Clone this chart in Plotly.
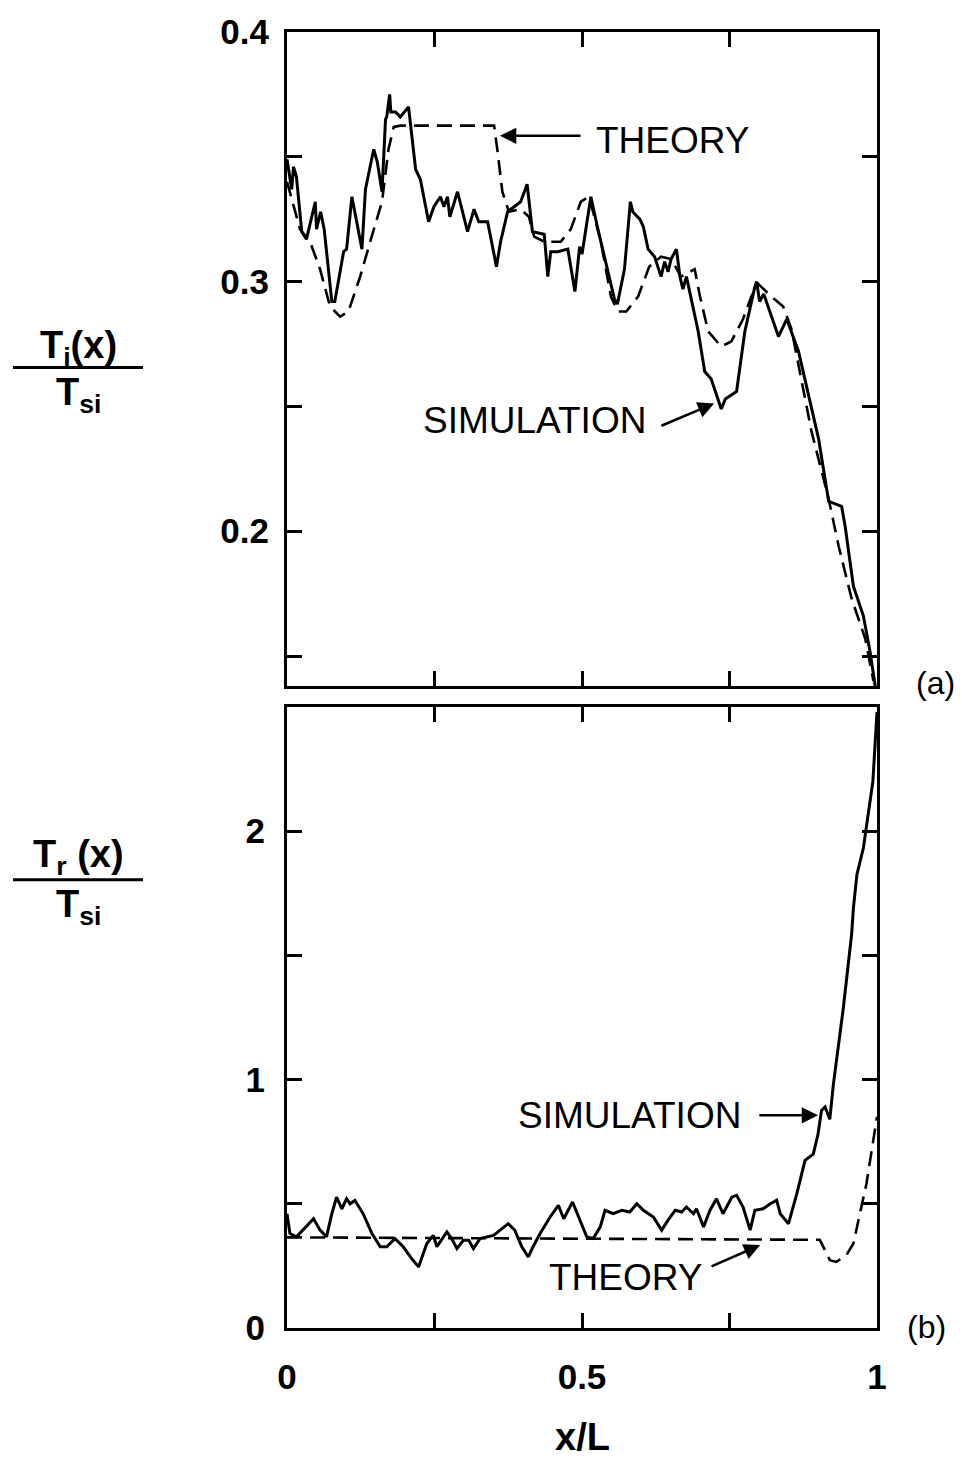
import plotly.graph_objects as go

# ---------------- data ----------------
top_sim_x = [0.000, 0.008, 0.011, 0.016, 0.025, 0.033, 0.048, 0.050, 0.057, 0.063,
             0.076, 0.081, 0.096, 0.101, 0.110, 0.127, 0.133, 0.147, 0.153, 0.161,
             0.167, 0.169, 0.174, 0.176, 0.184, 0.192, 0.206, 0.218, 0.226, 0.240,
             0.249, 0.260, 0.266, 0.272, 0.276, 0.289, 0.306, 0.317, 0.325, 0.340,
             0.355, 0.362, 0.374, 0.396, 0.407, 0.416, 0.436, 0.442, 0.447, 0.459,
             0.476, 0.488, 0.496, 0.500, 0.515, 0.527, 0.555, 0.560, 0.572, 0.582,
             0.586, 0.598, 0.604, 0.612, 0.623, 0.634, 0.640, 0.646, 0.651, 0.660,
             0.666, 0.671, 0.677, 0.697, 0.708, 0.719, 0.736, 0.743, 0.762, 0.776,
             0.793, 0.796, 0.801, 0.808, 0.833, 0.847, 0.867, 0.889, 0.901, 0.918,
             0.940, 0.946, 0.960, 0.977, 0.988, 0.997]
top_sim_y = [0.349, 0.337, 0.346, 0.342, 0.320, 0.317, 0.332, 0.321, 0.328, 0.321,
             0.292, 0.292, 0.312, 0.313, 0.334, 0.313, 0.337, 0.353, 0.348, 0.336,
             0.365, 0.366, 0.375, 0.368, 0.368, 0.366, 0.370, 0.345, 0.341, 0.324,
             0.330, 0.334, 0.330, 0.334, 0.326, 0.336, 0.320, 0.329, 0.324, 0.324,
             0.306, 0.316, 0.328, 0.332, 0.339, 0.320, 0.319, 0.302, 0.312, 0.312,
             0.313, 0.296, 0.314, 0.311, 0.334, 0.321, 0.293, 0.291, 0.305, 0.332,
             0.328, 0.325, 0.322, 0.313, 0.310, 0.302, 0.308, 0.304, 0.309, 0.313,
             0.302, 0.297, 0.302, 0.280, 0.264, 0.261, 0.249, 0.253, 0.256, 0.280,
             0.298, 0.300, 0.292, 0.295, 0.278, 0.285, 0.272, 0.249, 0.237, 0.212,
             0.210, 0.202, 0.178, 0.166, 0.152, 0.138]

top_th_x = [0.000, 0.022, 0.039, 0.056, 0.073, 0.090, 0.104, 0.124, 0.141, 0.161,
            0.172, 0.181, 0.192, 0.351, 0.357, 0.365, 0.376, 0.396, 0.410, 0.419,
            0.436, 0.464, 0.481, 0.498, 0.512, 0.532, 0.549, 0.561, 0.575, 0.595,
            0.614, 0.634, 0.651, 0.668, 0.691, 0.700, 0.714, 0.736, 0.753, 0.773,
            0.787, 0.799, 0.821, 0.841, 0.855, 0.867, 0.889, 0.918, 0.935, 0.957,
            0.980, 0.994]
top_th_y = [0.340, 0.321, 0.316, 0.305, 0.290, 0.286, 0.288, 0.302, 0.316, 0.332,
            0.353, 0.362, 0.3625, 0.3625, 0.352, 0.336, 0.328, 0.329, 0.326, 0.318,
            0.316, 0.316, 0.321, 0.332, 0.334, 0.316, 0.294, 0.288, 0.288, 0.294,
            0.306, 0.310, 0.309, 0.302, 0.305, 0.294, 0.280, 0.274, 0.276, 0.285,
            0.294, 0.299, 0.294, 0.290, 0.281, 0.266, 0.240, 0.213, 0.194, 0.173,
            0.157, 0.140]

bot_sim_x = [0.000, 0.005, 0.016, 0.031, 0.045, 0.056, 0.067, 0.076, 0.084, 0.093,
             0.101, 0.107, 0.115, 0.129, 0.144, 0.158, 0.169, 0.183, 0.197, 0.211,
             0.223, 0.237, 0.248, 0.254, 0.271, 0.279, 0.288, 0.299, 0.308, 0.316,
             0.327, 0.350, 0.375, 0.386, 0.398, 0.409, 0.417, 0.429, 0.446, 0.460,
             0.469, 0.484, 0.497, 0.508, 0.519, 0.531, 0.539, 0.553, 0.567, 0.581,
             0.593, 0.604, 0.621, 0.635, 0.646, 0.658, 0.669, 0.677, 0.689, 0.694,
             0.706, 0.717, 0.728, 0.739, 0.754, 0.762, 0.773, 0.785, 0.793, 0.807,
             0.819, 0.830, 0.836, 0.850, 0.864, 0.878, 0.892, 0.900, 0.906, 0.912,
             0.920, 0.926, 0.937, 0.943, 0.957, 0.960, 0.966, 0.977, 0.985, 0.993,
             0.998, 1.000]
bot_sim_y = [0.46, 0.38, 0.367, 0.407, 0.44, 0.394, 0.367, 0.46, 0.527, 0.48,
             0.52, 0.50, 0.514, 0.46, 0.38, 0.327, 0.327, 0.36, 0.327, 0.28,
             0.246, 0.34, 0.373, 0.327, 0.387, 0.36, 0.32, 0.353, 0.353, 0.32,
             0.36, 0.373, 0.42, 0.394, 0.327, 0.286, 0.327, 0.38, 0.447, 0.494,
             0.44, 0.507, 0.43, 0.367, 0.36, 0.407, 0.474, 0.46, 0.474, 0.467,
             0.50, 0.474, 0.447, 0.394, 0.434, 0.474, 0.467, 0.487, 0.46, 0.48,
             0.407, 0.474, 0.52, 0.46, 0.527, 0.534, 0.487, 0.394, 0.474, 0.48,
             0.50, 0.514, 0.46, 0.42, 0.54, 0.675, 0.70, 0.78, 0.876, 0.89,
             0.84, 0.98, 1.18, 1.29, 1.585, 1.69, 1.826, 1.933, 2.067, 2.2,
             2.4, 2.48]

bot_th_x = [0.000, 0.903, 0.912, 0.920, 0.931, 0.948, 0.960, 0.971, 0.982, 0.991, 1.000]
bot_th_y = [0.365, 0.355, 0.313, 0.273, 0.266, 0.293, 0.34, 0.46, 0.58, 0.715, 0.85]

top_ytick_vals = [0.15, 0.2, 0.25, 0.3, 0.35, 0.4]
top_ytick_text = ["", "0.2", "", "0.3", "", "0.4"]
bot_ytick_vals = [0, 0.5, 1, 1.5, 2]
bot_ytick_text = ["0", "", "1", "", "2"]
xtick_vals = [0, 0.25, 0.5, 0.75, 1]
xtick_text = ["0", "", "0.5", "", "1"]

# ---------------- figure ----------------
W, H = 962, 1461
ML, MR, MT, MB = 287, 85, 30, 133
PW, PH = W - ML - MR, H - MT - MB


def px(x):
    return (x - ML) / PW


def py(y):
    return (H - MB - y) / PH


FONT = "Liberation Sans, Arial, Helvetica, sans-serif"

fig = go.Figure()
solid = dict(color="black", width=3)
dashed = dict(color="black", width=2.6, dash="15px,8px")

fig.add_trace(go.Scatter(x=top_th_x, y=top_th_y, mode="lines", line=dashed,
                         xaxis="x", yaxis="y", showlegend=False))
fig.add_trace(go.Scatter(x=top_sim_x, y=top_sim_y, mode="lines", line=solid,
                         xaxis="x", yaxis="y", showlegend=False))
fig.add_trace(go.Scatter(x=bot_th_x, y=bot_th_y, mode="lines", line=dashed,
                         xaxis="x2", yaxis="y2", showlegend=False))
fig.add_trace(go.Scatter(x=bot_sim_x, y=bot_sim_y, mode="lines", line=solid,
                         xaxis="x2", yaxis="y2", showlegend=False))

axis_common = dict(showline=True, linewidth=3, linecolor="black", mirror="ticks",
                   ticks="inside", ticklen=15, tickwidth=2.5, tickcolor="black",
                   showgrid=False, zeroline=False,
                   tickfont=dict(family=FONT, size=35, color="black", weight="bold"))

top_dom = [py(685), 1.0]
bot_dom = [0.0, py(706)]

fig.update_layout(
    width=W, height=H,
    margin=dict(l=ML, r=MR, t=MT, b=MB),
    paper_bgcolor="white", plot_bgcolor="white",
    xaxis=dict(axis_common, range=[0, 1], domain=[0, 1], anchor="y",
               tickvals=[0.25, 0.5, 0.75], showticklabels=False),
    yaxis=dict(axis_common, range=[0.138, 0.4], domain=top_dom, anchor="x",
               tickvals=top_ytick_vals, ticktext=top_ytick_text,
               ticklabelstandoff=8),
    xaxis2=dict(axis_common, range=[0, 1], domain=[0, 1], anchor="y2",
                tickvals=xtick_vals, ticktext=xtick_text, ticklabelstandoff=16),
    yaxis2=dict(axis_common, range=[0, 2.5], domain=bot_dom, anchor="x2",
                tickvals=bot_ytick_vals, ticktext=bot_ytick_text,
                ticklabelstandoff=12),
)

lab = dict(family=FONT, size=37, color="black")
C = dict(xanchor="center", yanchor="middle")
arrow = dict(text="", showarrow=True, arrowhead=2, arrowsize=1.3,
             arrowwidth=2.5, arrowcolor="black")
ann = []
# top panel labels
ann.append(dict(C, x=0.654, y=0.3564, xref="x", yref="y", text="THEORY",
                showarrow=False, font=lab))
ann.append(dict(arrow, x=0.361, y=0.3584, ax=0.50, ay=0.3584, xref="x", yref="y",
                axref="x", ayref="y"))
ann.append(dict(C, x=0.419, y=0.2444, xref="x", yref="y", text="SIMULATION",
                showarrow=False, font=lab))
ann.append(dict(arrow, x=0.724, y=0.2512, ax=0.632, ay=0.2420, xref="x", yref="y",
                axref="x", ayref="y"))
# bottom panel labels
ann.append(dict(C, x=0.581, y=0.856, xref="x2", yref="y2", text="SIMULATION",
                showarrow=False, font=lab))
ann.append(dict(arrow, x=0.90, y=0.856, ax=0.798, ay=0.856, xref="x2", yref="y2",
                axref="x2", ayref="y2"))
ann.append(dict(C, x=0.575, y=0.205, xref="x2", yref="y2", text="THEORY",
                showarrow=False, font=lab))
ann.append(dict(arrow, x=0.802, y=0.334, ax=0.717, ay=0.245, xref="x2", yref="y2",
                axref="x2", ayref="y2"))

# panel tags
tag_font = dict(family=FONT, size=32, color="black")
ann.append(dict(C, x=px(935), y=py(682), xref="paper", yref="paper", text="(a)",
                showarrow=False, font=tag_font))
ann.append(dict(C, x=px(926), y=py(1327), xref="paper", yref="paper", text="(b)",
                showarrow=False, font=tag_font))

# x-axis title
ann.append(dict(C, x=px(582), y=py(1437), xref="paper", yref="paper", text="x/L",
                showarrow=False,
                font=dict(family=FONT, size=38, color="black", weight="bold")))

# y-axis titles as fractions
frac_font = dict(family=FONT, size=38, color="black", weight="bold")
ann.append(dict(C, x=px(78), y=py(346), xref="paper", yref="paper",
                text="T<sub>i</sub>(x)", showarrow=False, font=frac_font))
ann.append(dict(C, x=px(78), y=py(394), xref="paper", yref="paper",
                text="T<sub>si</sub>", showarrow=False, font=frac_font))
ann.append(dict(C, x=px(78), y=py(856), xref="paper", yref="paper",
                text="T<sub>r</sub> (x)", showarrow=False, font=frac_font))
ann.append(dict(C, x=px(78), y=py(906), xref="paper", yref="paper",
                text="T<sub>si</sub>", showarrow=False, font=frac_font))

fig.update_layout(annotations=ann)
fig.update_layout(shapes=[
    dict(type="line", xref="paper", yref="paper", x0=px(13), x1=px(143),
         y0=py(366), y1=py(366), line=dict(color="black", width=3)),
    dict(type="line", xref="paper", yref="paper", x0=px(13), x1=px(143),
         y0=py(879), y1=py(879), line=dict(color="black", width=3)),
])

fig.write_html("out.html")
